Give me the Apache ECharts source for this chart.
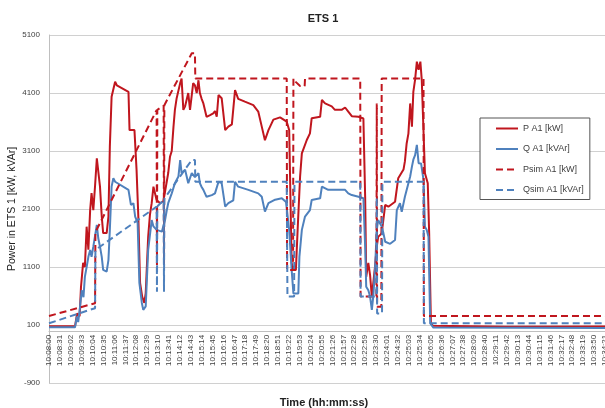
<!DOCTYPE html>
<html>
<head>
<meta charset="utf-8">
<script src="https://cdn.jsdelivr.net/npm/echarts@6/dist/echarts.min.js"></script>
<style>
html,body{margin:0;padding:0;background:#fff;}
#chart{width:605px;height:408px;}
</style>
</head>
<body>
<div id="chart"></div>
<script>
// time offsets in seconds after 10:08:00, with values
const pTime  = [0,74,80,87,91,97,102,107,112,117,121,126,131,136,145,150,154,164,169,173,178,183,188,193,226,229,243,249,254,259,265,271,275,282,287,292,297,306,316,325,330,339,344,349,354,358,363,368,373,377,382,387,396,401,410,415,420,425,429,434,439,448,458,467,472,477,482,491,501,510,520,529,538,557,581,595,605,614,624,638,657,676,683,690,695,702,707,714,719,733,742,747,771,776,785,804,813,832,842,851,861,880,894,899,902,904,908,913,918,922,927,932,936,946,956,965,984,993,998,1008,1012,1017,1022,1027,1032,1036,1041,1046,1051,1056,1060,1065,1069,1077,1081,1086,1092,1300,1581];
const pValue = [80,80,300,250,760,1170,1100,1795,1400,2080,2375,2080,2500,2975,2485,1970,1685,1685,1970,3175,4035,4050,4295,4230,4120,3460,3460,2770,1970,825,590,480,650,1620,2000,2200,2485,2255,2200,2230,2400,2720,3000,3100,3520,3810,4010,3990,4270,4350,3810,3870,4100,3810,4270,4230,4100,4320,4100,4000,3920,3690,3720,3750,3790,3690,4065,4010,3460,3520,3560,4150,4000,3950,3890,3780,3520,3285,3460,3640,3680,3605,3460,1170,1050,1050,1740,2660,3060,3290,3405,3665,3690,3980,3920,3870,3810,3810,3850,3780,3700,3690,3660,2310,930,960,1170,960,590,820,1105,1450,1620,1680,2170,2140,2225,2630,2600,2780,2920,3230,3400,3920,3520,4120,4330,4640,4500,4640,4320,4325,2715,2545,1680,130,85,70,75];

const qTime  = [0,74,79,83,88,93,98,102,107,112,117,121,126,136,140,145,150,154,164,169,173,178,183,188,226,233,240,245,252,257,264,268,275,282,292,297,306,321,330,335,339,349,358,368,373,377,387,396,406,415,425,429,434,439,448,463,472,477,482,491,501,510,524,529,538,567,595,605,614,624,643,662,674,683,690,695,709,712,719,728,742,747,771,776,794,823,842,851,861,880,894,899,902,908,913,918,922,927,932,936,946,951,956,970,984,989,998,1003,1012,1022,1027,1032,1036,1041,1046,1051,1058,1065,1069,1074,1079,1084,1093,1581];
const qValue = [60,60,245,150,400,700,580,930,1100,1275,1395,1275,1450,1825,1600,1450,1275,1050,1020,1220,1740,2485,2630,2570,2430,2170,2200,1970,1860,825,480,360,420,1395,1910,1800,1740,1710,1910,2080,2200,2370,2545,2660,2945,2720,2775,2545,2720,2650,2720,2545,2480,2430,2310,2340,2370,2340,2570,2545,2140,2200,2250,2570,2485,2430,2370,2310,2055,2200,2260,2285,2220,1740,1050,645,645,1275,1740,1970,2080,2255,2285,2485,2430,2430,2430,2370,2340,2310,2285,1450,760,700,590,360,590,1050,1740,1910,1800,1680,1535,1500,1565,2080,2200,2050,2310,2545,2660,2830,2950,3030,3205,2890,2885,2600,1795,1740,1620,130,55,50];

const psimTime  = [0,131,132,306,307,308,326,327,328,406,415,416,676,677,694,695,700,714,727,728,885,886,931,932,933,945,946,1065,1066,1581];
const psimValue = [255,475,1700,3805,1135,3810,3880,1135,3890,4785,4785,4350,4350,1050,1050,4350,4300,4220,4220,4350,4350,590,590,3920,415,415,4350,4350,255,255];

const qsimTime  = [0,131,132,306,307,308,326,327,328,406,415,416,676,678,697,698,885,886,931,932,933,947,948,1065,1066,1581];
const qsimValue = [130,390,1395,2140,675,2145,2250,675,2280,2945,2945,2570,2570,590,590,2570,2570,590,590,2310,300,300,2570,2570,130,130];

const seriesNames = ['P A1 [kW]','Q A1 [kVAr]','Psim A1 [kW]','Qsim A1 [kVAr]'];
const startTime = '10:08:00';
const tickStep = 31;     // seconds between time labels
const timeMax = 1581;    // 10:34:21
const yTicks = [-900,100,1100,2100,3100,4100,5100];

function pairs(t, v){ return t.map((x,i)=>[x, v[i]]); }
function fmtTime(sec){
  const p = startTime.split(':').map(Number);
  let tot = p[0]*3600 + p[1]*60 + p[2] + Math.round(sec);
  const hh = Math.floor(tot/3600), mm = Math.floor((tot%3600)/60), ss = tot%60;
  const pad = n => (n<10?'0':'')+n;
  return pad(hh)+':'+pad(mm)+':'+pad(ss);
}

const RED = '#c0161e', BLUE = '#4f81bd';
const gridTop = 35, gridHeight = 348;
const yMin = yTicks[0], yMax = yTicks[yTicks.length-1];
// distance from the bottom of the plot up to the value-0 line (where the time axis crosses)
const zeroOffset = gridHeight * (0 - yMin) / (yMax - yMin);

const chart = echarts.init(document.getElementById('chart'), null, {renderer:'canvas'});
chart.setOption({
  animation:false,
  backgroundColor:'#fff',
  textStyle:{fontFamily:'Liberation Sans'},
  title:[
    {text:'ETS 1', left:318, top:8, textAlign:'center',
     textStyle:{fontSize:11, fontWeight:'bold', color:'#222', fontFamily:'Liberation Sans'}},
    {text:'Time (hh:mm:ss)', left:319, top:392, textAlign:'center',
     textStyle:{fontSize:11, fontWeight:'bold', color:'#222', fontFamily:'Liberation Sans'}}
  ],
  grid:{left:49, top:gridTop, width:556, height:gridHeight, containLabel:false, outerBoundsMode:'none'},
  legend:{
    orient:'vertical', left:480, top:118,
    data:seriesNames,
    backgroundColor:'#fff', borderColor:'#555', borderWidth:1,
    padding:[6,6,5,15], itemWidth:22, itemHeight:10, itemGap:11.5,
    itemStyle:{opacity:0},
    textStyle:{fontSize:9, color:'#404040', fontFamily:'Liberation Sans'}
  },
  xAxis:{
    type:'value', min:0, max:timeMax, interval:tickStep,
    offset:-zeroOffset,
    axisLine:{show:true, onZero:false, lineStyle:{color:'#bfbfbf', width:1}},
    axisTick:{show:false},
    splitLine:{show:false},
    axisLabel:{rotate:90, fontSize:8, color:'#404040', margin:4,
      formatter:v=>fmtTime(v), showMinLabel:true, showMaxLabel:true}
  },
  yAxis:{
    type:'value', min:yMin, max:yMax, interval:1000,
    name:'Power in ETS 1 [kW, kVAr]', nameLocation:'middle', nameGap:31,
    nameMoveOverlap:false,
    nameTextStyle:{fontSize:10.5, color:'#222', fontFamily:'Liberation Sans'},
    axisLine:{show:true, lineStyle:{color:'#bfbfbf', width:1}},
    axisTick:{show:false},
    splitLine:{show:true, lineStyle:{color:'#d0d0d0', width:1}},
    axisLabel:{fontSize:8, color:'#404040', margin:9, formatter:v=>String(v)}
  },
  series:[
    {name:seriesNames[0], type:'line', data:pairs(pTime,pValue), symbol:'none',
     lineStyle:{color:RED, width:2}, itemStyle:{color:RED}},
    {name:seriesNames[1], type:'line', data:pairs(qTime,qValue), symbol:'none',
     lineStyle:{color:BLUE, width:2}, itemStyle:{color:BLUE}},
    {name:seriesNames[2], type:'line', data:pairs(psimTime,psimValue), symbol:'none',
     lineStyle:{color:RED, width:2, type:[7,4]}, itemStyle:{color:RED}},
    {name:seriesNames[3], type:'line', data:pairs(qsimTime,qsimValue), symbol:'none',
     lineStyle:{color:BLUE, width:2, type:[7,4]}, itemStyle:{color:BLUE}}
  ]
});
</script>
</body>
</html>
